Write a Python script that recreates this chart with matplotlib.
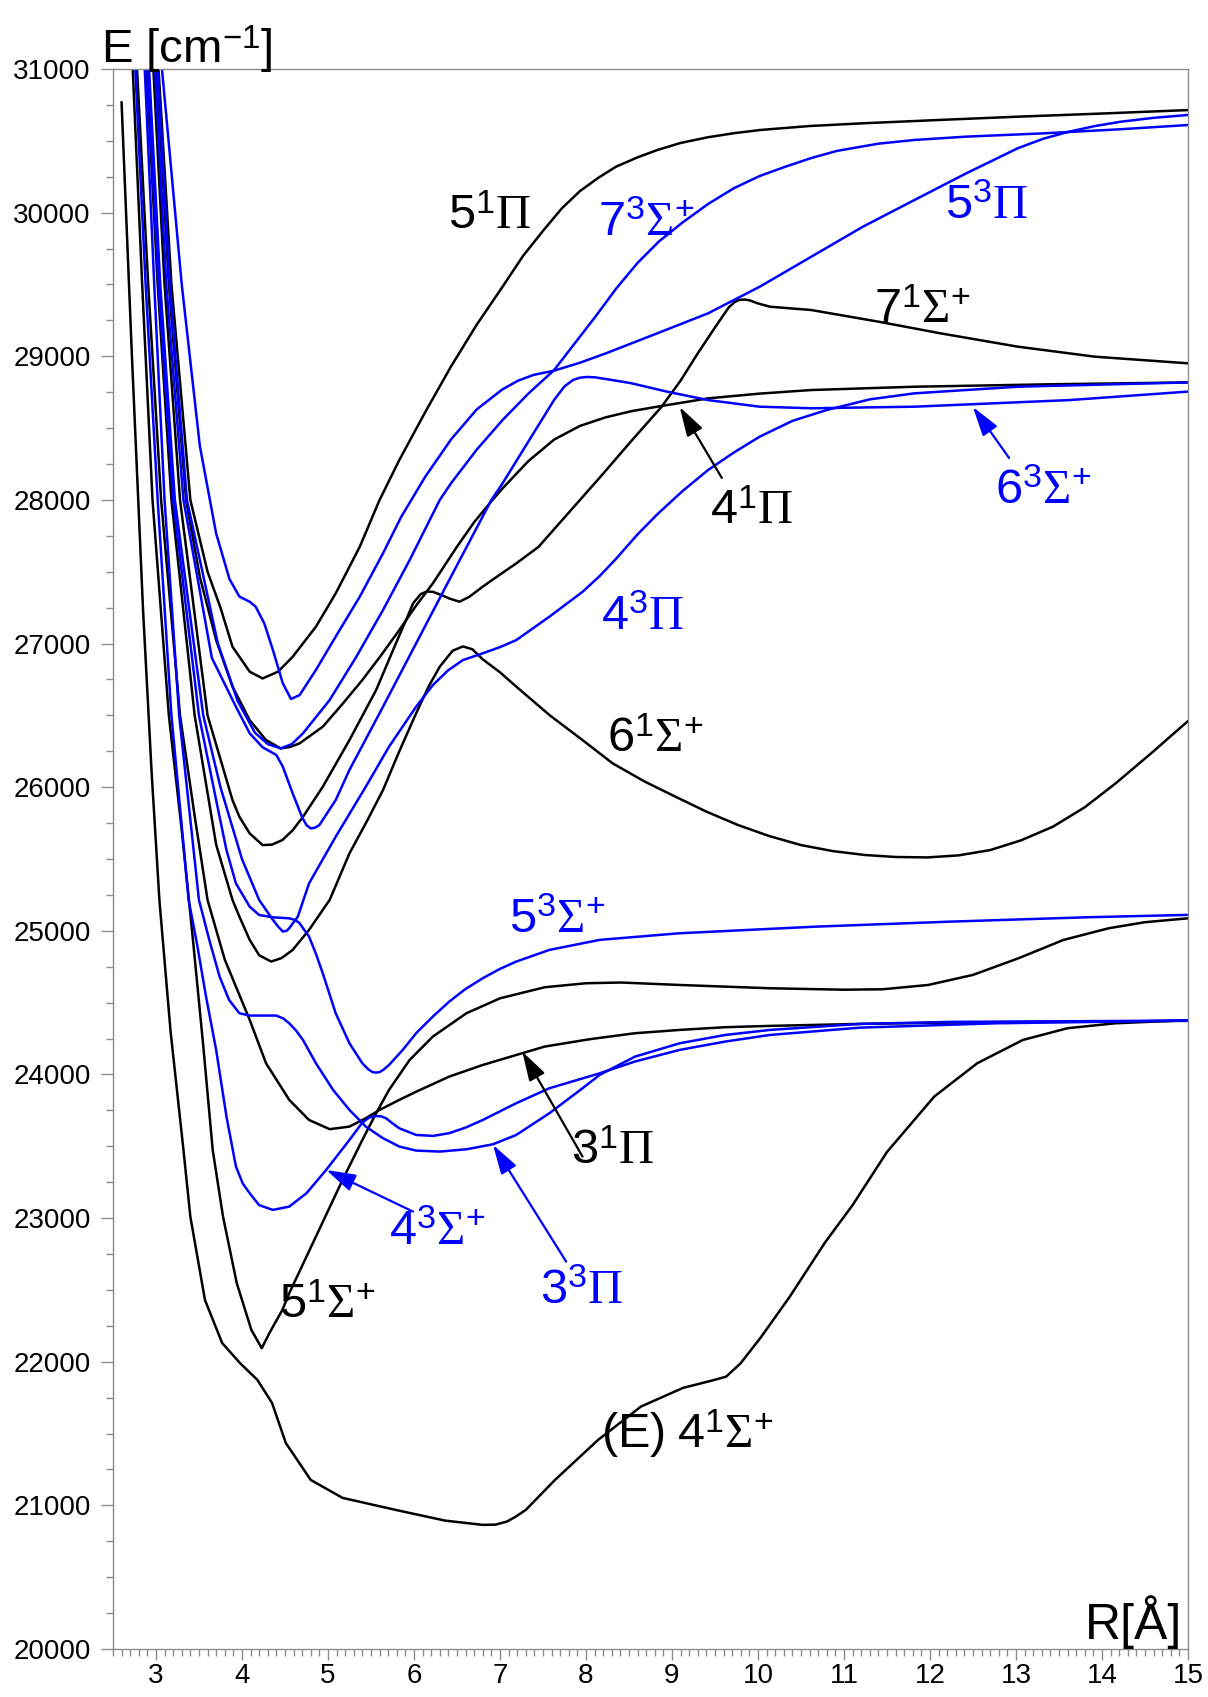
import matplotlib
matplotlib.use("Agg")
import matplotlib.pyplot as plt
from matplotlib.ticker import MultipleLocator

plt.rcParams["font.family"] = ["Liberation Sans", "DejaVu Sans"]
plt.rcParams["mathtext.fontset"] = "custom"
plt.rcParams["mathtext.rm"] = "Liberation Serif"
plt.rcParams["mathtext.it"] = "Liberation Serif:italic"
plt.rcParams["mathtext.sf"] = "Liberation Sans"

BLACK = "#000000"
BLUE = "#0000FF"

# ---------------- singlet states (black) ----------------
r_E4S1 = [2.60, 2.72, 2.85, 2.95, 3.04, 3.17, 3.32, 3.40, 3.57, 3.77, 3.98, 4.18, 4.35, 4.51,
          4.80, 5.17, 5.79, 6.36, 6.80, 6.95, 7.08, 7.18, 7.30, 7.64, 8.14, 8.64, 9.13, 9.46,
          9.63, 9.80, 10.04, 10.37, 10.78, 11.10, 11.50, 12.05, 12.55, 13.08, 13.60, 14.15, 15.0]
e_E4S1 = [30770, 29010, 27234, 26100, 25215, 24300, 23474, 23010, 22430, 22130, 21989, 21873,
          21713, 21434, 21177, 21052, 20968, 20894, 20864, 20866, 20887, 20920, 20968, 21177,
          21455, 21688, 21818, 21868, 21896, 21990, 22175, 22453, 22830, 23090, 23460, 23846,
          24078, 24240, 24322, 24356, 24378]

r_5S1 = [2.73, 2.84, 2.96, 3.15, 3.30, 3.42, 3.55, 3.66, 3.78, 3.94, 4.11, 4.23, 4.32, 4.47,
         4.55, 4.86, 5.17, 5.40, 5.56, 5.71, 5.95, 6.22, 6.61, 7.00, 7.52, 8.00, 8.41, 9.09,
         10.14, 11.00, 11.45, 11.98, 12.50, 13.03, 13.55, 14.08, 14.50, 15.0]
e_5S1 = [31000, 29500, 28000, 26500, 25700, 25000, 24200, 23474, 23010, 22546, 22221, 22094,
         22200, 22361, 22477, 22871, 23266, 23544, 23730, 23892, 24101, 24264, 24426, 24530,
         24607, 24635, 24640, 24623, 24600, 24590, 24593, 24623, 24693, 24809, 24936, 25018,
         25060, 25087]

r_3P1 = [2.78, 2.91, 3.06, 3.28, 3.45, 3.60, 3.80, 4.09, 4.28, 4.55, 4.78, 5.02, 5.25, 5.44,
         5.60, 5.83, 6.03, 6.41, 6.80, 7.26, 7.52, 8.04, 8.57, 9.09, 9.62, 10.14, 11.19, 12.24,
         15.0]
e_3P1 = [31000, 29500, 28000, 26500, 25800, 25215, 24800, 24380, 24078, 23823, 23683, 23619,
         23637, 23695, 23753, 23823, 23881, 23985, 24066, 24148, 24194, 24245, 24287, 24310,
         24329, 24338, 24352, 24361, 24373]

r_6S1 = [2.89, 3.02, 3.18, 3.45, 3.70, 3.89, 3.97, 4.09, 4.20, 4.34, 4.46, 4.59, 4.78, 5.02,
         5.25, 5.45, 5.64, 5.83, 6.025, 6.17, 6.30, 6.45, 6.57, 6.68, 6.80, 7.00, 7.19, 7.58,
         7.96, 8.31, 8.68, 9.04, 9.40, 9.77, 10.13, 10.50, 10.87, 11.24, 11.60, 11.97, 12.33,
         12.70, 13.06, 13.43, 13.80, 14.16, 14.58, 15.0]
e_6S1 = [31000, 29500, 28000, 26500, 25600, 25215, 25099, 24937, 24830, 24786, 24810, 24867,
         25006, 25215, 25539, 25760, 25980, 26250, 26514, 26700, 26839, 26950, 26980, 26960,
         26890, 26800, 26700, 26500, 26328, 26166, 26040, 25934, 25830, 25736, 25660, 25597,
         25555, 25528, 25514, 25511, 25525, 25562, 25630, 25725, 25860, 26027, 26240, 26460]

r_7S1 = [2.97, 3.10, 3.28, 3.60, 3.89, 3.97, 4.09, 4.24, 4.35, 4.47, 4.59, 4.71, 4.94, 5.25,
         5.56, 5.79, 5.92, 5.99, 6.08, 6.15, 6.22, 6.31, 6.41, 6.53, 6.645, 6.80, 7.00, 7.19,
         7.45, 7.81, 8.17, 8.52, 8.88, 9.10, 9.30, 9.50, 9.66, 9.73, 9.78, 9.84, 9.90, 10.00,
         10.14, 10.62, 11.40, 12.12, 13.02, 13.92, 15.0]
e_7S1 = [31000, 29500, 28000, 26500, 25910, 25794, 25678, 25597, 25600, 25632, 25700, 25794,
         26003, 26328, 26676, 27001, 27180, 27280, 27345, 27362, 27360, 27340, 27314, 27291,
         27326, 27396, 27480, 27558, 27674, 27918, 28162, 28405, 28649, 28830, 29020, 29200,
         29340, 29378, 29392, 29395, 29390, 29368, 29345, 29322, 29241, 29160, 29067, 28997,
         28951]

r_4P1 = [3.01, 3.15, 3.35, 3.51, 3.70, 3.89, 4.09, 4.28, 4.45, 4.56, 4.67, 4.94, 5.17, 5.40,
         5.62, 5.83, 6.02, 6.22, 6.50, 6.70, 6.90, 7.03, 7.33, 7.63, 7.93, 8.23, 8.53, 8.83,
         9.42, 10.02, 10.62, 11.82, 13.40, 15.0]
e_4P1 = [31000, 29500, 28000, 27465, 27024, 26700, 26467, 26328, 26270, 26280, 26305, 26421,
         26580, 26746, 26920, 27094, 27260, 27419, 27674, 27845, 27990, 28080, 28270, 28420,
         28515, 28575, 28618, 28649, 28707, 28740, 28765, 28788, 28805, 28818]

r_5P1 = [3.03, 3.18, 3.40, 3.60, 3.75, 3.89, 4.09, 4.24, 4.42, 4.59, 4.86, 5.09, 5.37, 5.60,
         5.83, 6.13, 6.43, 6.73, 7.03, 7.27, 7.51, 7.72, 7.93, 8.15, 8.35, 8.60, 8.83, 9.10,
         9.42, 9.72, 10.02, 10.60, 11.22, 12.10, 13.02, 14.00, 15.0]
e_5P1 = [31000, 29500, 28000, 27500, 27250, 26978, 26804, 26757, 26804, 26908, 27117, 27349,
         27674, 27999, 28278, 28610, 28928, 29220, 29484, 29700, 29880, 30030, 30150, 30245,
         30320, 30385, 30436, 30485, 30525, 30553, 30575, 30603, 30622, 30645, 30668, 30690,
         30714]

# ---------------- triplet states (blue) ----------------
r_4S3 = [2.76, 2.88, 3.02, 3.18, 3.38, 3.48, 3.58, 3.70, 3.82, 3.93, 4.01, 4.09, 4.20, 4.36,
         4.55, 4.75, 4.98, 5.25, 5.40, 5.48, 5.56, 5.62, 5.675, 5.75, 5.83, 6.025, 6.22, 6.41,
         6.60, 6.80, 7.19, 7.575, 8.16, 8.57, 9.09, 9.62, 10.14, 11.19, 12.76, 15.0]
e_4S3 = [31000, 29500, 28000, 26500, 25215, 24900, 24550, 24171, 23707, 23359, 23240, 23173,
         23090, 23057, 23080, 23173, 23336, 23544, 23665, 23700, 23711, 23708, 23695, 23660,
         23625, 23579, 23572, 23591, 23630, 23683, 23800, 23904, 24008, 24090, 24171, 24229,
         24275, 24326, 24356, 24375]

r_3P3 = [2.87, 2.98, 3.10, 3.27, 3.50, 3.62, 3.74, 3.85, 3.97, 4.09, 4.25, 4.40, 4.48, 4.55,
         4.63, 4.71, 4.86, 5.06, 5.25, 5.44, 5.64, 5.83, 6.025, 6.30, 6.61, 6.92, 7.19, 7.575,
         7.96, 8.16, 8.57, 9.09, 9.62, 10.14, 11.19, 12.24, 15.0]
e_3P3 = [31000, 29500, 28000, 26500, 25215, 24937, 24681, 24519, 24426, 24410, 24410, 24410,
         24390, 24356, 24305, 24240, 24078, 23892, 23753, 23637, 23556, 23498, 23470, 23463,
         23479, 23514, 23579, 23730, 23904, 23997, 24124, 24217, 24275, 24310, 24352, 24366,
         24375]

r_5S3 = [2.90, 3.03, 3.20, 3.50, 3.70, 3.82, 3.93, 4.09, 4.20, 4.36, 4.55, 4.62, 4.67, 4.72,
         4.78, 4.86, 4.94, 5.09, 5.25, 5.40, 5.47, 5.52, 5.56, 5.60, 5.65, 5.71, 5.87, 6.025,
         6.22, 6.41, 6.60, 6.80, 7.00, 7.19, 7.575, 8.16, 9.09, 10.67, 12.24, 13.81, 15.0]
e_5S3 = [31000, 29500, 28000, 26500, 25910, 25562, 25330, 25168, 25110, 25094, 25087, 25075,
         25053, 25010, 24960, 24840, 24704, 24426, 24217, 24078, 24035, 24016, 24013, 24016,
         24035, 24066, 24171, 24287, 24403, 24507, 24595, 24670, 24735, 24786, 24867, 24937,
         24983, 25029, 25064, 25094, 25111]

r_4P3 = [2.92, 3.05, 3.22, 3.55, 3.75, 4.00, 4.20, 4.36, 4.42, 4.475, 4.52, 4.55, 4.65, 4.78,
         5.09, 5.44, 5.71, 6.025, 6.22, 6.40, 6.57, 6.80, 7.00, 7.19, 7.575, 7.96, 8.16, 8.35,
         8.60, 8.83, 9.12, 9.42, 9.72, 10.02, 10.40, 10.80, 11.30, 11.82, 13.02, 15.0]
e_4P3 = [31000, 29500, 28000, 26500, 26000, 25500, 25215, 25076, 25030, 24995, 25000, 25018,
         25099, 25330, 25655, 26003, 26282, 26560, 26711, 26815, 26885, 26932, 26975, 27024,
         27187, 27360, 27470, 27590, 27760, 27900, 28060, 28208, 28330, 28440, 28550, 28626,
         28700, 28742, 28788, 28818]

r_6S3 = [2.99, 3.12, 3.32, 3.65, 3.93, 4.09, 4.24, 4.40, 4.475, 4.59, 4.70, 4.75, 4.80, 4.85,
         4.90, 5.09, 5.25, 5.64, 6.025, 6.41, 6.90, 7.03, 7.39, 7.63, 7.75, 7.85, 7.93, 8.02,
         8.11, 8.30, 8.53, 8.94, 9.42, 10.02, 10.62, 11.82, 13.62, 15.0]
e_6S3 = [31000, 29500, 28000, 26900, 26560, 26375, 26278, 26224, 26143, 25957, 25790, 25736,
         25713, 25718, 25736, 25910, 26120, 26560, 27001, 27442, 27999, 28115, 28464, 28696,
         28790, 28835, 28851, 28856, 28853, 28835, 28812, 28754, 28695, 28649, 28638, 28649,
         28695, 28754]

r_7S3 = [3.02, 3.16, 3.36, 3.72, 3.95, 4.15, 4.30, 4.45, 4.58, 4.71, 5.02, 5.33, 5.64, 5.95,
         6.30, 6.43, 6.73, 7.03, 7.33, 7.63, 7.87, 8.11, 8.35, 8.60, 8.85, 9.12, 9.42, 9.72,
         10.02, 10.32, 10.62, 10.92, 11.40, 11.82, 12.42, 13.32, 14.20, 15.0]
e_7S3 = [31000, 29500, 28000, 27000, 26600, 26380, 26300, 26270, 26300, 26375, 26607, 26908,
         27233, 27581, 27999, 28115, 28350, 28556, 28740, 28904, 29090, 29276, 29470, 29650,
         29800, 29930, 30060, 30170, 30255, 30320, 30380, 30430, 30480, 30506, 30529, 30552,
         30580, 30610]

r_5P3 = [3.07, 3.30, 3.51, 3.70, 3.855, 3.97, 4.09, 4.16, 4.26, 4.36, 4.475, 4.57, 4.67, 4.86,
         5.09, 5.37, 5.64, 5.85, 6.13, 6.43, 6.73, 7.03, 7.21, 7.39, 7.63, 7.93, 8.23, 8.83,
         9.42, 10.02, 10.62, 11.22, 11.82, 12.42, 13.02, 13.32, 13.62, 13.92, 14.22, 14.60, 15.0]
e_5P3 = [31000, 29500, 28377, 27766, 27449, 27327, 27291, 27256, 27140, 26955, 26723, 26614,
         26641, 26816, 27048, 27326, 27628, 27880, 28160, 28420, 28630, 28770, 28830, 28870,
         28900, 28955, 29020, 29160, 29299, 29484, 29693, 29902, 30088, 30273, 30448, 30515,
         30564, 30603, 30633, 30660, 30680]

states = [
    (r_E4S1, e_E4S1, BLACK), (r_5S1, e_5S1, BLACK), (r_3P1, e_3P1, BLACK),
    (r_6S1, e_6S1, BLACK), (r_7S1, e_7S1, BLACK), (r_4P1, e_4P1, BLACK),
    (r_5P1, e_5P1, BLACK),
    (r_4S3, e_4S3, BLUE), (r_3P3, e_3P3, BLUE), (r_5S3, e_5S3, BLUE),
    (r_4P3, e_4P3, BLUE), (r_6S3, e_6S3, BLUE), (r_7S3, e_7S3, BLUE),
    (r_5P3, e_5P3, BLUE),
]

# curve labels: text, anchor (R, E), colour
labels = [
    (r"$\mathsf{5}^{\mathsf{1}}\Pi$", 6.40, 29883, BLACK),
    (r"$\mathsf{7}^{\mathsf{3}}\Sigma^{\mathsf{+}}$", 8.14, 29837, BLUE),
    (r"$\mathsf{5}^{\mathsf{3}}\Pi$", 12.17, 29958, BLUE),
    (r"$\mathsf{7}^{\mathsf{1}}\Sigma^{\mathsf{+}}$", 11.35, 29234, BLACK),
    (r"$\mathsf{4}^{\mathsf{1}}\Pi$", 9.44, 27832, BLACK),
    (r"$\mathsf{6}^{\mathsf{3}}\Sigma^{\mathsf{+}}$", 12.76, 27972, BLUE),
    (r"$\mathsf{4}^{\mathsf{3}}\Pi$", 8.17, 27094, BLUE),
    (r"$\mathsf{6}^{\mathsf{1}}\Sigma^{\mathsf{+}}$", 8.25, 26243, BLACK),
    (r"$\mathsf{5}^{\mathsf{3}}\Sigma^{\mathsf{+}}$", 7.10, 24985, BLUE),
    (r"$\mathsf{3}^{\mathsf{1}}\Pi$", 7.83, 23379, BLACK),
    (r"$\mathsf{4}^{\mathsf{3}}\Sigma^{\mathsf{+}}$", 5.71, 22813, BLUE),
    (r"$\mathsf{3}^{\mathsf{3}}\Pi$", 7.47, 22399, BLUE),
    (r"$\mathsf{5}^{\mathsf{1}}\Sigma^{\mathsf{+}}$", 4.43, 22301, BLACK),
    (r"$\mathsf{(E)\ 4}^{\mathsf{1}}\Sigma^{\mathsf{+}}$", 8.17, 21397, BLACK),
]

# arrows: (tail R, tail E), (head R, head E), colour
arrows = [
    ((9.58, 28153), (9.09, 28647), BLACK),
    ((12.92, 28292), (12.50, 28647), BLUE),
    ((7.96, 23428), (7.26, 24159), BLACK),
    ((5.99, 23045), (4.98, 23335), BLUE),
    ((7.77, 22697), (6.92, 23509), BLUE),
]

fig = plt.figure(figsize=(12.08, 16.97), dpi=100)
ax = fig.add_axes([0.0935, 0.02829, 0.9834 - 0.0935, 0.95934 - 0.02829])

for r, e, c in states:
    ax.plot(r, e, color=c, lw=1.8, solid_joinstyle="round", solid_capstyle="round")

for txt, x, y, c in labels:
    ax.text(x, y, txt, color=c, fontsize=35, ha="left", va="baseline")

for (tx, ty), (hx, hy), c in arrows:
    ax.annotate("", xy=(hx, hy), xytext=(tx, ty),
                arrowprops=dict(arrowstyle="-|>,head_length=0.6,head_width=0.18",
                                color=c, lw=1.6, mutation_scale=30,
                                shrinkA=0, shrinkB=0))

ax.set_xlim(2.5, 15.0)
ax.set_ylim(20000, 31000)
ax.xaxis.set_major_locator(MultipleLocator(1))
ax.xaxis.set_minor_locator(MultipleLocator(0.1))
ax.yaxis.set_major_locator(MultipleLocator(1000))
ax.yaxis.set_minor_locator(MultipleLocator(250))

GRAY = "#8c8c8c"
for s in ax.spines.values():
    s.set_color(GRAY)
    s.set_linewidth(1.0)
ax.tick_params(which="both", direction="out", color=GRAY, width=1.0)
ax.tick_params(which="major", length=9, labelsize=20, pad=7)
ax.tick_params(which="minor", length=5)
ax.tick_params(axis="x", which="major", length=8, pad=2)

fig.text(101 / 1208, 1 - 63 / 1697, r"E [cm$^{\mathsf{-1}}$]", fontsize=34,
         ha="left", va="baseline")
fig.text(1182 / 1208, 1 - 1639 / 1697, "R[Å]", fontsize=36, ha="right", va="baseline")

fig.savefig("out.png", dpi=100)
